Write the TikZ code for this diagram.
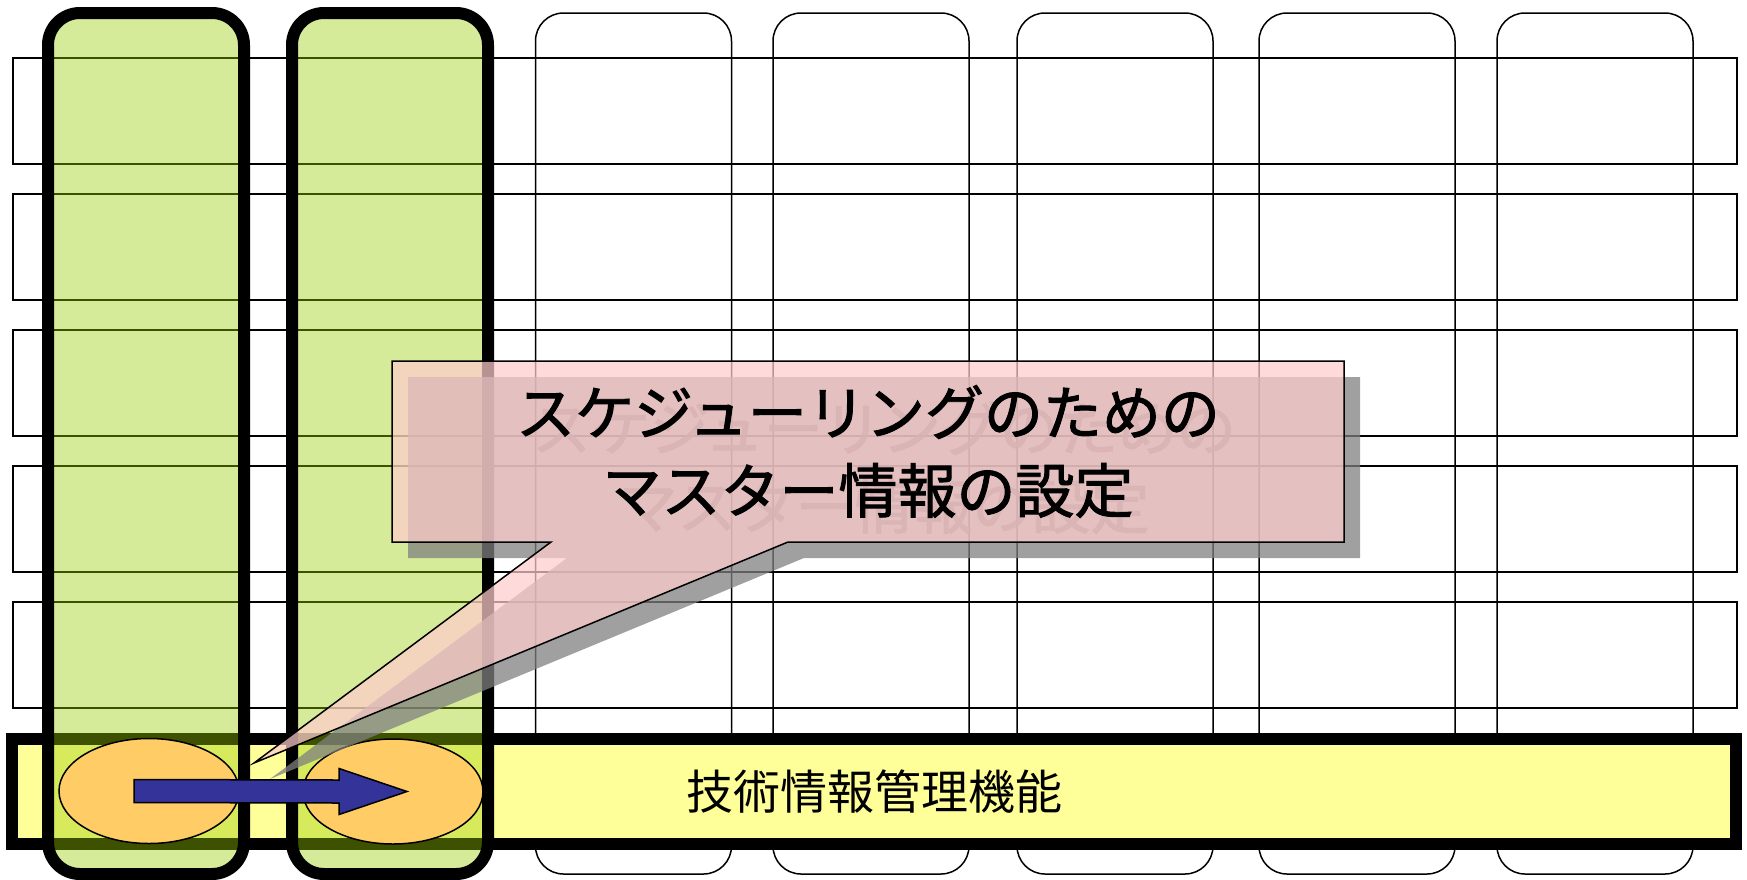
\documentclass[tikz,border=0pt]{standalone}
\usepackage{fontspec}
\newfontfamily\jpfont{Noto Sans CJK JP}
\newfontfamily\jpheavy[FakeBold=1.6]{Noto Sans CJK JP}
\usetikzlibrary{calc, shapes.geometric}

\definecolor{colgreen}{RGB}{153,204,0}
\definecolor{baryellow}{RGB}{255,255,153}
\definecolor{ovalorange}{RGB}{255,204,102}
\definecolor{arrowblue}{RGB}{51,51,153}
\definecolor{calloutpink}{RGB}{255,204,204}
\definecolor{shadowgray}{RGB}{128,128,128}

\tikzset{
    rowbox/.style={draw=black, line width=1.5pt, minimum width=1724pt, minimum height=106pt, inner sep=0pt, outer sep=0pt},
    colbox/.style={draw=black, line width=1.5pt, rounded corners=28pt, minimum width=196pt, minimum height=861pt, inner sep=0pt, outer sep=0pt},
    pickbox/.style={colbox, line width=12pt, rounded corners=32pt, fill=colgreen, fill opacity=0.4},
    barbox/.style={draw=black, line width=12pt, fill=baryellow, minimum width=1724pt, minimum height=105pt, inner sep=0pt, outer sep=0pt},
    stepoval/.style={ellipse, draw=black, line width=1.5pt, fill=ovalorange, minimum width=180pt, minimum height=105pt, inner sep=0pt, outer sep=0pt},
    blockarrow/.style={draw=black, line width=1.5pt, fill=arrowblue},
    calloutbox/.style={minimum width=952pt, minimum height=181pt, inner sep=0pt, outer sep=0pt},
}

\begin{document}
\begin{tikzpicture}[x=1pt, y=-1pt]
    \useasboundingbox (0,0) rectangle (1747,879);

    % rows
    \node[rowbox] (row1) at (875,111) {};
    \node[rowbox] (row2) at ($(row1)+(0,136)$) {};
    \node[rowbox] (row3) at ($(row1)+(0,272)$) {};
    \node[rowbox] (row4) at ($(row1)+(0,408)$) {};
    \node[rowbox] (row5) at ($(row1)+(0,544)$) {};

    % columns
    \node[colbox] (col1) at (146,443.5) {};
    \node[colbox] (col2) at ($(col1)+(244,0)$) {};
    \node[colbox] (col3) at ($(col1)+(487.5,0)$) {};
    \node[colbox] (col4) at ($(col1)+(725,0)$) {};
    \node[colbox] (col5) at ($(col1)+(969,0)$) {};
    \node[colbox] (col6) at ($(col1)+(1211,0)$) {};
    \node[colbox] (col7) at ($(col1)+(1449,0)$) {};

    \node[barbox, font=\jpfont\fontsize{47}{56}\selectfont] (bar) at (874.25,791.5) {技術情報管理機能};

    \node[pickbox] (pick1) at (col1) {};
    \node[pickbox] (pick2) at (col2) {};

    \node[stepoval] (e1) at (149,791) {};
    \node[stepoval] (e2) at ($(e1)+(244,0.5)$) {};

    \draw[blockarrow] ($(e1.center)+(-15,-11.5)$) -- ($(e2.center)+(-54,-11.5)$)
        -- ($(e2.center)+(-54,-23)$) -- ($(e2.center)+(14,0)$) -- ($(e2.center)+(-54,23)$)
        -- ($(e2.center)+(-54,11.5)$) -- ($(e1.center)+(-15,11.5)$) -- cycle;

    % callout
    \node[calloutbox] (callout) at (868,451.5) {};
    \coordinate (tip) at (254,763);

    \path[fill=shadowgray, fill opacity=0.75]
        ($(callout.north west)+(16,16)$) -- ($(callout.north east)+(16,16)$)
        -- ($(callout.south east)+(16,16)$) -- ($(callout.south west)+(412,16)$)
        -- ($(tip)+(16,16)$) -- ($(callout.south west)+(175,16)$)
        -- ($(callout.south west)+(16,16)$) -- cycle;
    \node[align=center, text=black!55, text opacity=0.75, font=\jpheavy\fontsize{59}{78}\selectfont]
        (calloutshade) at ($(callout.center)+(16,16)$) {スケジューリングのための\\マスター情報の設定};

    \draw[line width=1.5pt, fill=calloutpink, fill opacity=0.72]
        (callout.north west) -- (callout.north east) -- (callout.south east)
        -- ($(callout.south west)+(396,0)$) -- (tip) -- ($(callout.south west)+(159,0)$)
        -- (callout.south west) -- cycle;
    \node[align=center, font=\jpheavy\fontsize{59}{78}\selectfont]
        (callouttext) at (callout.center) {スケジューリングのための\\マスター情報の設定};
\end{tikzpicture}
\end{document}
